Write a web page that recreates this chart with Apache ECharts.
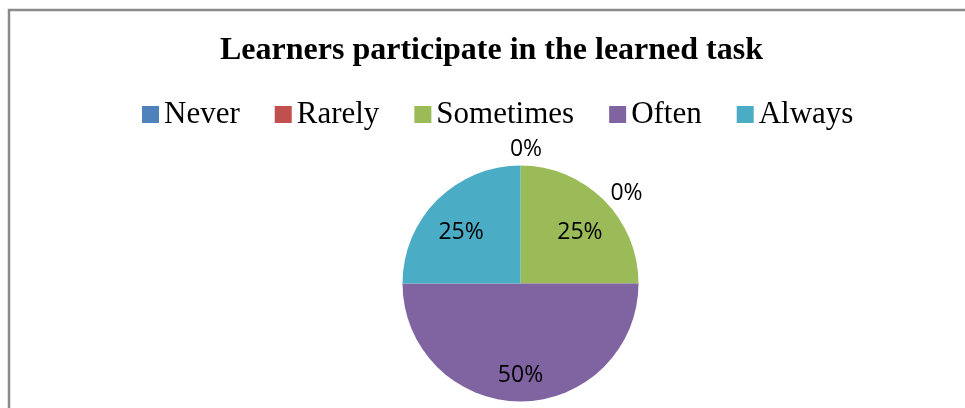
<!DOCTYPE html>
<html><head><meta charset="utf-8">
<script src="https://cdn.jsdelivr.net/npm/echarts@6/dist/echarts.min.js"></script>
<style>html,body{margin:0;padding:0;background:#fff}#c{width:965px;height:408px}</style>
</head><body><div id="c"></div>
<script>
const categories = ['Never', 'Rarely', 'Sometimes', 'Often', 'Always'];
const shares = [0, 0, 25, 50, 25];
const sliceColors = ['#4F81BD', '#C0504D', '#9BBB59', '#8064A2', '#4BACC6'];
const titleText = 'Learners participate in the learned task';

const chart = echarts.init(document.getElementById('c'), null, { renderer: 'canvas' });

const pieData = categories.map((n, i) => ({ name: n, value: shares[i], itemStyle: { color: sliceColors[i] } }));
const labelData = categories.map((n, i) => ({ name: n, value: shares[i] }));

// label style shifts (Excel-like placement of inside and zero labels)
const zeroIdx = shares.map((v, i) => v === 0 ? i : -1).filter(i => i >= 0);
const zeroShifts = [{ dx: 5.5, dy: -50.5 }, { dx: 106, dy: -6.5 }];

const option = {
  animation: false,
  color: sliceColors,
  title: {
    text: titleText, left: 486.5, top: 30, textAlign: 'center',
    textStyle: { fontFamily: 'Liberation Serif', fontWeight: 'bold', fontSize: 32, color: '#000' }
  },
  legend: {
    data: categories, left: 137, top: 94, itemWidth: 17, itemHeight: 17, itemGap: 35,
    icon: 'rect', selectedMode: false,
    textStyle: { fontFamily: 'Liberation Serif', fontSize: 31, color: '#000' }
  },
  graphic: [{
    type: 'rect', silent: true, z: -10,
    shape: { x: 9, y: 10, width: 1000, height: 500 },
    style: { fill: 'none', stroke: '#8a8a8a', lineWidth: 2.5 }
  }],
  series: [
    {
      type: 'pie', center: [520.5, 283.5], radius: 118, startAngle: 90, clockwise: true,
      data: pieData, label: { show: false }, labelLine: { show: false },
      silent: true, emphasis: { disabled: true }
    },
    {
      type: 'pie', center: [520.5, 283.5], radius: [56, 106], startAngle: 90, clockwise: true,
      data: labelData, itemStyle: { color: 'rgba(0,0,0,0)' },
      label: { show: true, position: 'inside', formatter: '{d}%', fontFamily: 'Open Sans', fontSize: 23, color: '#000' },
      labelLine: { show: false },
      labelLayout: function (p) {
        const k = zeroIdx.indexOf(p.dataIndex);
        if (k >= 0 && k < zeroShifts.length) return zeroShifts[k];
        return { dy: 8 };
      },
      silent: true, emphasis: { disabled: true }
    }
  ]
};
chart.setOption(option);
</script>
</body></html>
